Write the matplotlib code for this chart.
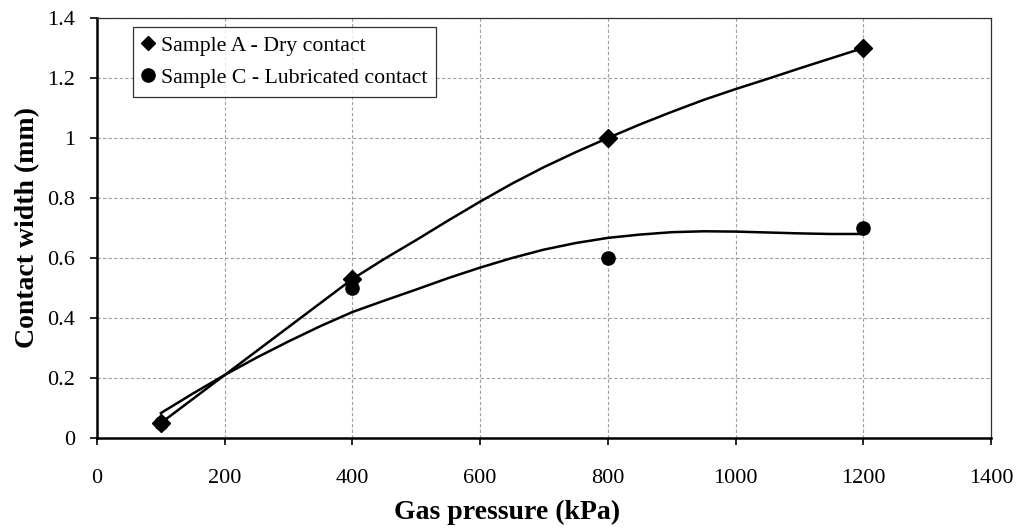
import matplotlib
matplotlib.use("Agg")
import matplotlib.pyplot as plt
from matplotlib.lines import Line2D

plt.rcParams['font.family'] = ['Liberation Serif', 'DejaVu Serif']

# Measured points
pressure = [100, 400, 800, 1200]
width_dry = [0.05, 0.53, 1.0, 1.3]
width_lub = [0.05, 0.5, 0.6, 0.7]

# Trend curves (sampled every 50 kPa)
trend_x = [100, 150, 200, 250, 300, 350, 400, 450, 500, 550, 600, 650,
           700, 750, 800, 850, 900, 950, 1000, 1050, 1100, 1150, 1200]
trend_dry = [0.05, 0.13, 0.21, 0.29, 0.37, 0.45, 0.53, 0.597, 0.66, 0.725, 0.788, 0.848,
             0.903, 0.953, 1.0, 1.045, 1.087, 1.127, 1.163, 1.197, 1.232, 1.266, 1.3]
trend_lub = [0.083, 0.148, 0.21, 0.268, 0.322, 0.373, 0.42, 0.458, 0.495, 0.533, 0.568, 0.60,
             0.628, 0.65, 0.667, 0.678, 0.686, 0.689, 0.688, 0.685, 0.682, 0.68, 0.68]

x_ticks = [0, 200, 400, 600, 800, 1000, 1200, 1400]
y_ticks = [0, 0.2, 0.4, 0.6, 0.8, 1.0, 1.2, 1.4]
y_labels = ['0', '0.2', '0.4', '0.6', '0.8', '1', '1.2', '1.4']

fig = plt.figure(figsize=(10.18, 5.32), dpi=100)
ax = fig.add_axes([0.0953, 0.1767, 0.8782, 0.7895])

ax.plot(trend_x, trend_dry, color='black', lw=1.8, zorder=3, solid_joinstyle='round')
ax.plot(trend_x, trend_lub, color='black', lw=1.8, zorder=3, solid_joinstyle='round')
ax.plot(pressure, width_dry, 'D', color='black', ms=9, zorder=4)
ax.plot(pressure, width_lub, 'o', color='black', ms=9.5, zorder=4)

ax.set_xlim(0, 1400)
ax.set_ylim(0, 1.4)
ax.set_xticks(x_ticks)
ax.set_yticks(y_ticks)
ax.set_yticklabels(y_labels)
ax.tick_params(direction='out', length=5, width=1.2, labelsize=16)
ax.tick_params(axis='x', pad=17)
ax.tick_params(axis='y', pad=11)
ax.grid(True, color='#a0a0a0', linestyle=(0, (3, 2)), lw=0.8)
ax.set_axisbelow(True)

for side in ['left', 'bottom']:
    ax.spines[side].set_linewidth(1.8)
for side in ['top', 'right']:
    ax.spines[side].set_linewidth(0.9)
    ax.spines[side].set_color('#303030')

ax.set_ylabel('Contact width (mm)', fontsize=20, fontweight='bold', labelpad=5)
fig.text(0.498, 0.036, 'Gas pressure (kPa)', fontsize=20, fontweight='bold',
         ha='center', va='center')

handles = [
    Line2D([], [], marker='D', color='black', ls='none', ms=7.5),
    Line2D([], [], marker='o', color='black', ls='none', ms=9.5),
]
leg = ax.legend(handles, ['Sample A - Dry contact', 'Sample C - Lubricated contact'],
                loc='upper left', bbox_to_anchor=(0.040, 0.979), borderaxespad=0,
                fontsize=15.7, frameon=True, fancybox=False, handlelength=0.6,
                handletextpad=0.3, borderpad=0.4, labelspacing=0.55)
leg.get_frame().set_edgecolor('black')
leg.get_frame().set_linewidth(0.9)

fig.savefig('out.png', dpi=100)
